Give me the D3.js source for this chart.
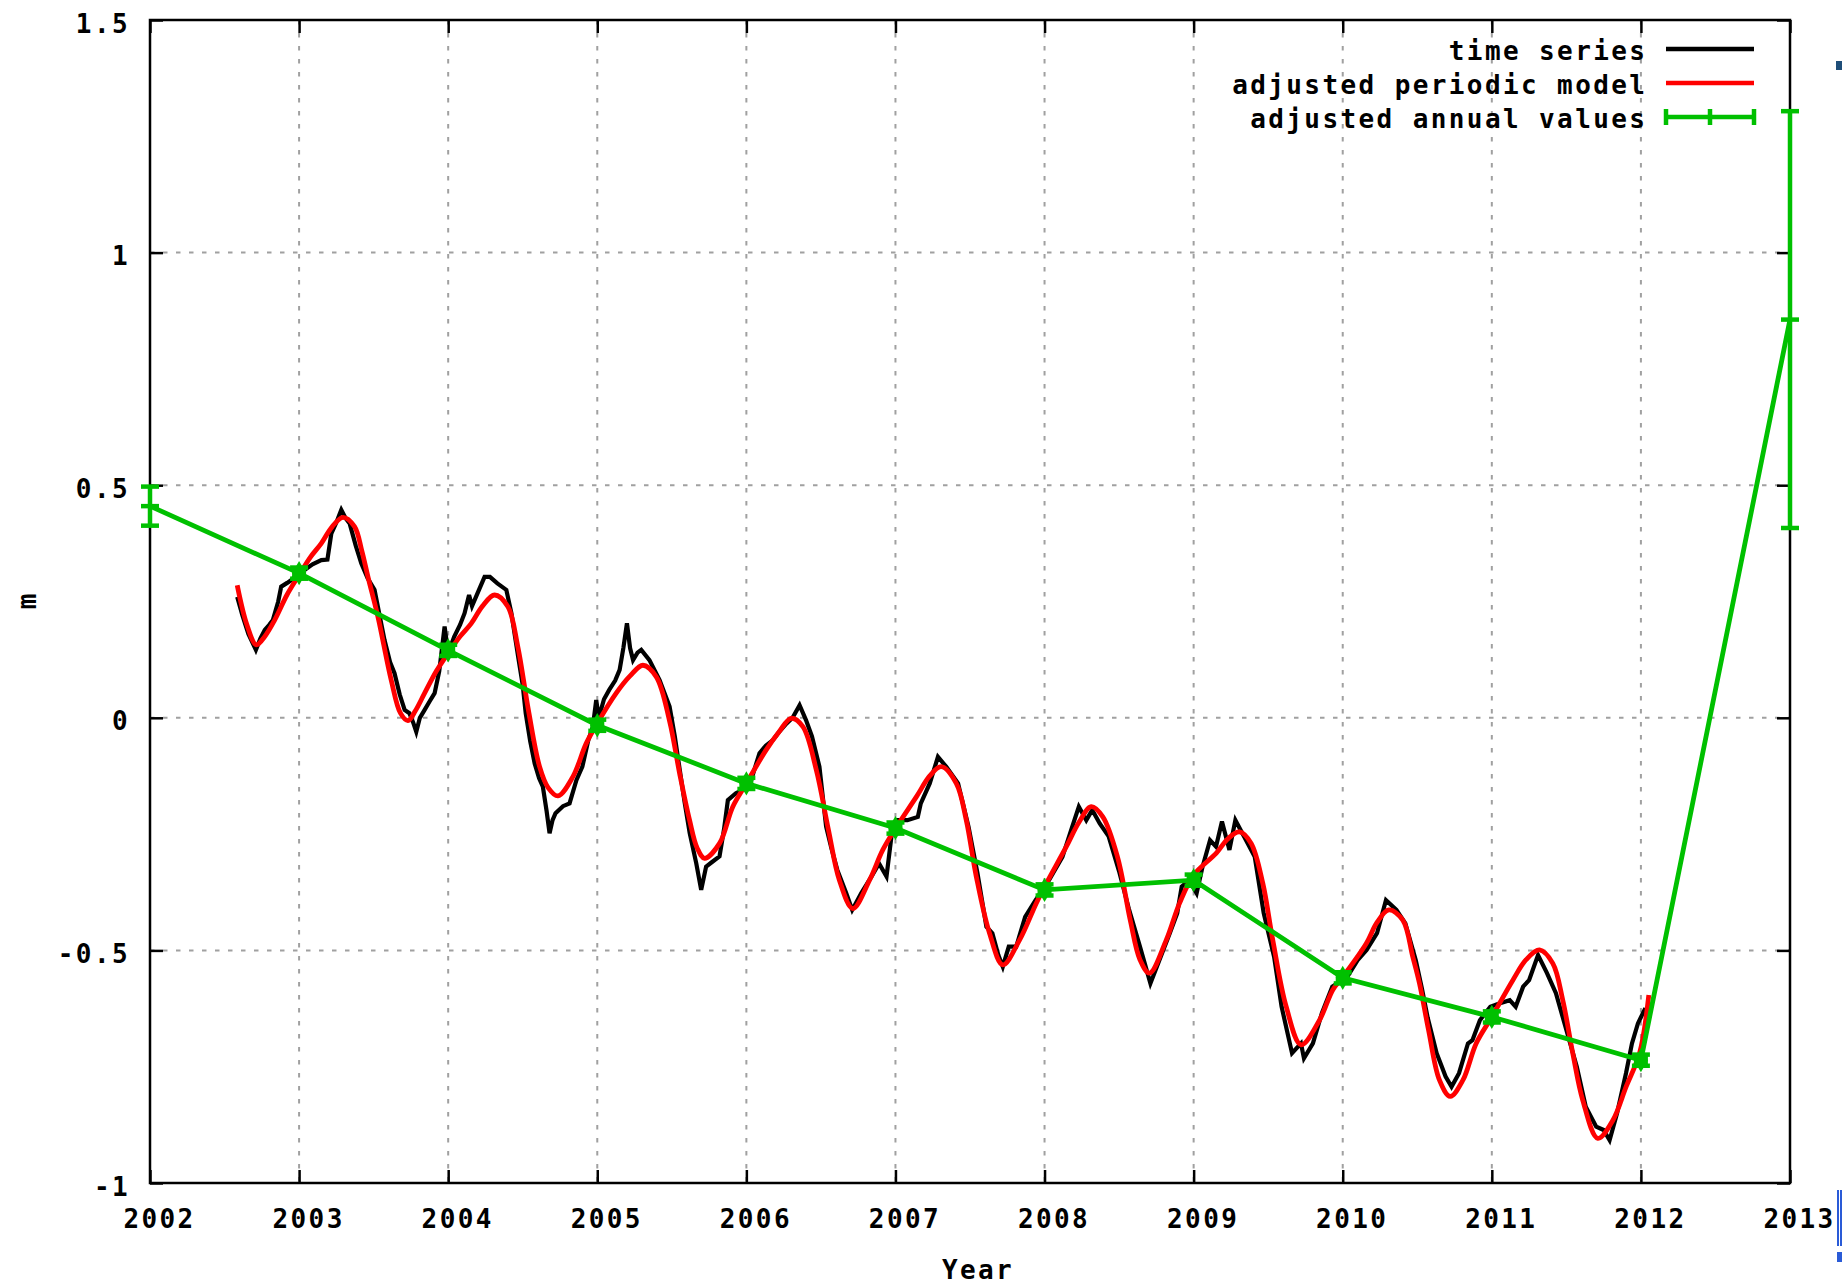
<!DOCTYPE html>
<html>
<head>
<meta charset="utf-8">
<script src="https://cdn.jsdelivr.net/npm/d3@7"></script>
<style>
  html, body { margin: 0; padding: 0; background: #ffffff; }
  svg { display: block; }
  text { font-family: "DejaVu Sans Mono", "Liberation Mono", monospace; font-weight: bold; fill: #000; }
</style>
</head>
<body>
<script>
// ---------------- DATA ----------------
const xTicks = [2002, 2003, 2004, 2005, 2006, 2007, 2008, 2009, 2010, 2011, 2012, 2013];
const xTickLabels = ["2002", "2003", "2004", "2005", "2006", "2007", "2008", "2009", "2010", "2011", "2012", "2013"];
const yTicks = [-1, -0.5, 0, 0.5, 1, 1.5];
const yTickLabels = ["-1", "-0.5", "0", "0.5", "1", "1.5"];
const xLabel = "Year";
const yLabel = "m";
const legendLabels = ["time series", "adjusted periodic model", "adjusted annual values"];

// adjusted annual values (green, with error bars)
const annualYears  = [2002, 2003, 2004, 2005, 2006, 2007, 2008, 2009, 2010, 2011, 2012, 2013];
const annualValues = [0.455, 0.311, 0.145, -0.016, -0.141, -0.237, -0.370, -0.349, -0.559, -0.643, -0.736, 0.856];
const annualErrors = [0.042, 0.012, 0.012, 0.012, 0.012, 0.012, 0.012, 0.012, 0.012, 0.012, 0.012, 0.448];

// time series (black)
const seriesYears = [
  2002.585, 2002.62, 2002.66, 2002.71, 2002.74, 2002.77, 2002.80, 2002.824, 2002.86, 2002.88, 2002.92, 2002.948, 2002.99,
  2003.037, 2003.09, 2003.149, 2003.19, 2003.216, 2003.25, 2003.283, 2003.31, 2003.339, 2003.38, 2003.417, 2003.46, 2003.506,
  2003.54, 2003.573, 2003.61, 2003.64, 2003.675, 2003.708, 2003.74, 2003.765, 2003.786, 2003.81, 2003.842, 2003.875, 2003.909,
  2003.94, 2003.976, 2004.00, 2004.04, 2004.08, 2004.11, 2004.14, 2004.16, 2004.20, 2004.244, 2004.28, 2004.33, 2004.39,
  2004.424, 2004.47, 2004.50, 2004.52, 2004.55, 2004.58, 2004.61, 2004.635, 2004.66, 2004.68, 2004.70, 2004.72, 2004.77,
  2004.814, 2004.86, 2004.90, 2004.94, 2004.97, 2004.993, 2005.01, 2005.045, 2005.08, 2005.12, 2005.15, 2005.175, 2005.199,
  2005.22, 2005.24, 2005.27, 2005.295, 2005.35, 2005.418, 2005.485, 2005.52, 2005.55, 2005.585, 2005.62, 2005.664, 2005.697,
  2005.73, 2005.77, 2005.82, 2005.85, 2005.876, 2005.93, 2005.975, 2006.02, 2006.055, 2006.088, 2006.13, 2006.178, 2006.22,
  2006.27, 2006.31, 2006.357, 2006.40, 2006.44, 2006.49, 2006.535, 2006.57, 2006.61, 2006.67, 2006.71, 2006.77, 2006.84,
  2006.89, 2006.94, 2006.973, 2007.01, 2007.08, 2007.15, 2007.17, 2007.23, 2007.285, 2007.34, 2007.42, 2007.49, 2007.55,
  2007.61, 2007.65, 2007.69, 2007.72, 2007.76, 2007.81, 2007.87, 2007.94, 2008.03, 2008.12, 2008.18, 2008.23, 2008.28,
  2008.32, 2008.37, 2008.43, 2008.50, 2008.565, 2008.64, 2008.71, 2008.77, 2008.84, 2008.89, 2008.92, 2008.97, 2009.02,
  2009.06, 2009.11, 2009.15, 2009.19, 2009.24, 2009.28, 2009.34, 2009.41, 2009.47, 2009.54, 2009.59, 2009.66, 2009.72,
  2009.74, 2009.80, 2009.86, 2009.93, 2010.03, 2010.10, 2010.16, 2010.23, 2010.29, 2010.36, 2010.42, 2010.49, 2010.53,
  2010.57, 2010.63, 2010.69, 2010.73, 2010.78, 2010.84, 2010.87, 2010.92, 2010.99, 2011.05, 2011.12, 2011.16, 2011.21,
  2011.25, 2011.31, 2011.37, 2011.43, 2011.50, 2011.57, 2011.63, 2011.70, 2011.75, 2011.79, 2011.84, 2011.90, 2011.94,
  2011.98, 2012.03
];
const seriesValues = [
  0.26, 0.22, 0.18, 0.146, 0.17, 0.189, 0.20, 0.21, 0.25, 0.282, 0.29, 0.296, 0.31,
  0.318, 0.33, 0.339, 0.34, 0.396, 0.42, 0.447, 0.43, 0.418, 0.37, 0.332, 0.30, 0.275,
  0.22, 0.167, 0.12, 0.096, 0.05, 0.017, 0.01, -0.01, -0.03, 0.0, 0.017, 0.035, 0.053,
  0.10, 0.196, 0.139, 0.174, 0.20, 0.225, 0.264, 0.24, 0.27, 0.303, 0.303, 0.289, 0.275,
  0.225, 0.13, 0.07, 0.01, -0.05, -0.098, -0.13, -0.148, -0.20, -0.248, -0.22, -0.205, -0.19,
  -0.184, -0.134, -0.105, -0.048, -0.02, 0.038, 0.0, 0.04, 0.06, 0.08, 0.103, 0.15, 0.203,
  0.15, 0.124, 0.14, 0.146, 0.124, 0.081, 0.024, -0.04, -0.105, -0.18, -0.248, -0.313, -0.370,
  -0.32, -0.31, -0.298, -0.24, -0.177, -0.162, -0.155, -0.148, -0.11, -0.076, -0.06, -0.048, -0.03,
  -0.012, 0.0, 0.027, -0.005, -0.04, -0.105, -0.234, -0.28, -0.327, -0.377, -0.413, -0.377, -0.341,
  -0.313, -0.341, -0.255, -0.220, -0.220, -0.213, -0.184, -0.141, -0.084, -0.105, -0.141, -0.234, -0.334,
  -0.449, -0.463, -0.51, -0.535, -0.492, -0.492, -0.428, -0.392, -0.349, -0.299, -0.24, -0.191, -0.220,
  -0.198, -0.227, -0.255, -0.33, -0.41, -0.492, -0.571, -0.521, -0.463, -0.420, -0.363, -0.349, -0.377,
  -0.320, -0.263, -0.277, -0.223, -0.284, -0.220, -0.256, -0.299, -0.42, -0.514, -0.621, -0.721, -0.70,
  -0.732, -0.70, -0.635, -0.578, -0.557, -0.521, -0.499, -0.463, -0.392, -0.413, -0.442, -0.521, -0.58,
  -0.645, -0.721, -0.771, -0.793, -0.764, -0.700, -0.693, -0.650, -0.621, -0.614, -0.607, -0.621, -0.578,
  -0.564, -0.510, -0.549, -0.592, -0.671, -0.750, -0.836, -0.879, -0.886, -0.908, -0.850, -0.764, -0.700,
  -0.657, -0.624
];

// adjusted periodic model (red)
const modelYears = [
  2002.585, 2002.65, 2002.713, 2002.77, 2002.836, 2002.92, 2003.0, 2003.075, 2003.149, 2003.22, 2003.294, 2003.372,
  2003.42, 2003.462, 2003.529, 2003.618, 2003.68, 2003.73, 2003.78, 2003.842, 2003.92, 2004.0, 2004.08, 2004.155,
  2004.23, 2004.311, 2004.40, 2004.467, 2004.54, 2004.613, 2004.67, 2004.736, 2004.836, 2004.926, 2005.0, 2005.127,
  2005.22, 2005.306, 2005.396, 2005.485, 2005.552, 2005.619, 2005.67, 2005.72, 2005.82, 2005.909, 2006.0, 2006.133,
  2006.22, 2006.30, 2006.379, 2006.469, 2006.55, 2006.624, 2006.714, 2006.826, 2006.915, 2007.0, 2007.14, 2007.23,
  2007.307, 2007.408, 2007.475, 2007.542, 2007.631, 2007.72, 2007.832, 2007.944, 2008.0, 2008.146, 2008.23, 2008.313,
  2008.391, 2008.49, 2008.575, 2008.64, 2008.704, 2008.816, 2008.905, 2009.0, 2009.152, 2009.23, 2009.308, 2009.386,
  2009.464, 2009.531, 2009.621, 2009.721, 2009.844, 2009.933, 2010.0, 2010.158, 2010.23, 2010.309, 2010.403, 2010.47,
  2010.515, 2010.575, 2010.649, 2010.721, 2010.806, 2010.895, 2011.0, 2011.141, 2011.23, 2011.32, 2011.409, 2011.476,
  2011.543, 2011.61, 2011.711, 2011.812, 2011.901, 2011.991, 2012.053
];
const modelValues = [
  0.285, 0.20, 0.157, 0.175, 0.210, 0.265, 0.307, 0.345, 0.375, 0.41, 0.431, 0.411,
  0.36, 0.303, 0.217, 0.081, 0.01, -0.006, 0.015, 0.053, 0.10, 0.139, 0.175, 0.203,
  0.24, 0.264, 0.239, 0.153, 0.013, -0.105, -0.15, -0.168, -0.127, -0.055, -0.012, 0.053,
  0.09, 0.113, 0.088, -0.007, -0.119, -0.220, -0.28, -0.302, -0.270, -0.191, -0.141, -0.069,
  -0.03, -0.001, -0.019, -0.112, -0.24, -0.349, -0.41, -0.349, -0.284, -0.238, -0.170, -0.125,
  -0.105, -0.141, -0.220, -0.341, -0.463, -0.531, -0.478, -0.399, -0.363, -0.277, -0.225, -0.191,
  -0.213, -0.30, -0.435, -0.52, -0.549, -0.478, -0.399, -0.338, -0.291, -0.26, -0.245, -0.270,
  -0.356, -0.478, -0.621, -0.703, -0.650, -0.585, -0.557, -0.485, -0.44, -0.413, -0.435, -0.514,
  -0.571, -0.67, -0.779, -0.814, -0.779, -0.700, -0.643, -0.564, -0.52, -0.499, -0.528, -0.607,
  -0.721, -0.822, -0.904, -0.865, -0.793, -0.721, -0.596
];

// ---------------- LAYOUT ----------------
const W = 1842, H = 1287;
const M = { left: 150, right: 52, top: 20, bottom: 104 };
const FONT_SIZE = 26, LS = 2.4;

const svg = d3.select("body").append("svg").attr("width", W).attr("height", H);
svg.append("rect").attr("width", W).attr("height", H).attr("fill", "#ffffff");

const x = d3.scaleLinear().domain([2002, 2013]).range([M.left, W - M.right]);
const y = d3.scaleLinear().domain([-1, 1.5]).range([H - M.bottom, M.top]);

// grid
const grid = svg.append("g").attr("stroke", "#a0a0a0").attr("stroke-width", 2).attr("stroke-dasharray", "4.5,8.5");
grid.selectAll("line.v").data(xTicks.slice(1, -1)).join("line")
  .attr("x1", d => x(d)).attr("x2", d => x(d)).attr("y1", y(1.5)).attr("y2", y(-1));
grid.selectAll("line.h").data(yTicks.slice(1, -1)).join("line")
  .attr("x1", x(2002)).attr("x2", x(2013)).attr("y1", d => y(d)).attr("y2", d => y(d));

// axes (ticks inward, mirrored)
const TS = 13;
const fmtX = d => xTickLabels[xTicks.indexOf(d)];
const fmtY = d => yTickLabels[yTicks.indexOf(d)];

const gx = svg.append("g").attr("transform", `translate(0,${y(-1)})`)
  .call(d3.axisBottom(x).tickValues(xTicks).tickFormat(fmtX).tickSize(-TS).tickSizeOuter(0).tickPadding(0));
gx.select(".domain").remove();
gx.selectAll("line").attr("stroke", "#000").attr("stroke-width", 2.5);
gx.selectAll("text").attr("font-size", FONT_SIZE).attr("letter-spacing", LS)
  .attr("font-family", "DejaVu Sans Mono").attr("font-weight", "bold")
  .attr("dy", null).attr("y", 45).attr("x", 9).attr("text-anchor", "middle");

const gxt = svg.append("g").attr("transform", `translate(0,${y(1.5)})`)
  .call(d3.axisTop(x).tickValues(xTicks).tickFormat("").tickSize(-TS).tickSizeOuter(0));
gxt.select(".domain").remove();
gxt.selectAll("line").attr("stroke", "#000").attr("stroke-width", 2.5);

const gy = svg.append("g").attr("transform", `translate(${x(2002)},0)`)
  .call(d3.axisLeft(y).tickValues(yTicks).tickFormat(fmtY).tickSize(-TS).tickSizeOuter(0).tickPadding(0));
gy.select(".domain").remove();
gy.selectAll("line").attr("stroke", "#000").attr("stroke-width", 2.5);
gy.selectAll("text").attr("font-size", FONT_SIZE).attr("letter-spacing", LS)
  .attr("font-family", "DejaVu Sans Mono").attr("font-weight", "bold")
  .attr("dy", null).attr("y", 12).attr("x", -20).attr("text-anchor", "end");

const gyr = svg.append("g").attr("transform", `translate(${x(2013)},0)`)
  .call(d3.axisRight(y).tickValues(yTicks).tickFormat("").tickSize(-TS).tickSizeOuter(0));
gyr.select(".domain").remove();
gyr.selectAll("line").attr("stroke", "#000").attr("stroke-width", 2.5);

// border
svg.append("rect").attr("x", x(2002)).attr("y", y(1.5))
  .attr("width", x(2013) - x(2002)).attr("height", y(-1) - y(1.5))
  .attr("fill", "none").attr("stroke", "#000").attr("stroke-width", 2.5);

// axis labels
svg.append("text").attr("x", x(2007.5) + 8).attr("y", 1279).attr("text-anchor", "middle")
  .attr("font-size", FONT_SIZE).attr("letter-spacing", LS).text(xLabel);
svg.append("text").attr("transform", `translate(36,${y(0.25)}) rotate(-90)`).attr("text-anchor", "middle")
  .attr("font-size", FONT_SIZE).text(yLabel);

// plot clip
svg.append("clipPath").attr("id", "clip").append("rect")
  .attr("x", x(2002) - 20).attr("y", y(1.5) - 20).attr("width", x(2013) - x(2002) + 40).attr("height", y(-1) - y(1.5) + 40);
const plot = svg.append("g").attr("clip-path", "url(#clip)");

// time series
const seriesData = seriesYears.map((t, i) => [t, seriesValues[i]]);
plot.append("path").datum(seriesData)
  .attr("fill", "none").attr("stroke", "#000000").attr("stroke-width", 4.2).attr("stroke-linejoin", "miter")
  .attr("d", d3.line().x(d => x(d[0])).y(d => y(d[1])));

// periodic model
const modelData = modelYears.map((t, i) => [t, modelValues[i]]);
plot.append("path").datum(modelData)
  .attr("fill", "none").attr("stroke", "#ff0000").attr("stroke-width", 4.8).attr("stroke-linejoin", "round")
  .attr("d", d3.line().curve(d3.curveCatmullRom.alpha(0.5)).x(d => x(d[0])).y(d => y(d[1])));

// annual values with error bars
const GREEN = "#00c000";
const annualData = annualYears.map((t, i) => ({ t, v: annualValues[i], e: annualErrors[i] }));
plot.append("path").datum(annualData)
  .attr("fill", "none").attr("stroke", GREEN).attr("stroke-width", 4.8)
  .attr("d", d3.line().x(d => x(d.t)).y(d => y(d.v)));
const CAP = 9;
const eb = plot.append("g").attr("stroke", GREEN).attr("stroke-width", 4.5);
eb.selectAll("line.bar").data(annualData).join("line").attr("class", "bar")
  .attr("x1", d => x(d.t)).attr("x2", d => x(d.t)).attr("y1", d => y(d.v - d.e)).attr("y2", d => y(d.v + d.e));
eb.selectAll("line.top").data(annualData).join("line").attr("class", "top")
  .attr("x1", d => x(d.t) - CAP).attr("x2", d => x(d.t) + CAP).attr("y1", d => y(d.v + d.e)).attr("y2", d => y(d.v + d.e));
eb.selectAll("line.bot").data(annualData).join("line").attr("class", "bot")
  .attr("x1", d => x(d.t) - CAP).attr("x2", d => x(d.t) + CAP).attr("y1", d => y(d.v - d.e)).attr("y2", d => y(d.v - d.e));
// point markers (filled blob like the reference) for small error bars
const small = annualData.filter(d => d.e < 0.03);
const large = annualData.filter(d => d.e >= 0.03);
plot.append("g").selectAll("path.pt").data(small).join("path").attr("class", "pt")
  .attr("transform", d => `translate(${x(d.t)},${y(d.v)})`)
  .attr("d", d3.symbol().type(d3.symbolDiamond).size(170))
  .attr("fill", GREEN);
plot.append("g").selectAll("rect.pt").data(small).join("rect").attr("class", "pt")
  .attr("x", d => x(d.t) - 7).attr("y", d => y(d.v) - 5).attr("width", 14).attr("height", 10)
  .attr("fill", GREEN);
eb.selectAll("line.mid").data(large).join("line").attr("class", "mid")
  .attr("x1", d => x(d.t) - CAP).attr("x2", d => x(d.t) + CAP).attr("y1", d => y(d.v)).attr("y2", d => y(d.v));

// legend
const legRows = [49, 83, 117];
const legColors = ["#000000", "#ff0000", GREEN];
const lx1 = 1666, lx2 = 1754, textRight = 1645 + LS;
const leg = svg.append("g");
legendLabels.forEach((lab, i) => {
  leg.append("text").attr("x", textRight).attr("y", legRows[i] + 11).attr("text-anchor", "end")
    .attr("font-size", FONT_SIZE).attr("letter-spacing", LS).text(lab);
  leg.append("line").attr("x1", lx1).attr("x2", lx2).attr("y1", legRows[i]).attr("y2", legRows[i])
    .attr("stroke", legColors[i]).attr("stroke-width", 4.5);
});
[lx1, (lx1 + lx2) / 2, lx2].forEach(px => {
  leg.append("line").attr("x1", px).attr("x2", px).attr("y1", legRows[2] - 8).attr("y2", legRows[2] + 8)
    .attr("stroke", GREEN).attr("stroke-width", 4.5);
});

// edge artifacts present in the reference image
svg.append("rect").attr("x", 1836).attr("y", 61).attr("width", 6).attr("height", 9).attr("fill", "#1f4e79");
svg.append("rect").attr("x", 1837).attr("y", 1190).attr("width", 2).attr("height", 56).attr("fill", "#2a5bd7");
svg.append("rect").attr("x", 1840).attr("y", 1190).attr("width", 2).attr("height", 56).attr("fill", "#2a5bd7");
svg.append("rect").attr("x", 1837).attr("y", 1252).attr("width", 5).attr("height", 10).attr("fill", "#2a5bd7");
</script>
</body>
</html>
